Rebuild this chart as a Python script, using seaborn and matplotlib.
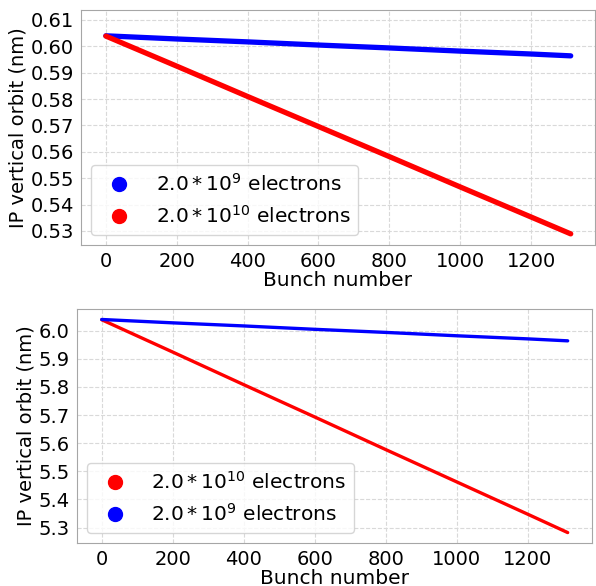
import numpy as np
import pandas as pd
import matplotlib
matplotlib.use("Agg")
import matplotlib.pyplot as plt
import seaborn as sns
from matplotlib.lines import Line2D

bunch = [0, 200, 400, 600, 800, 1000, 1200, 1312]

# top panel (nm)
top_low = [0.6040, 0.6028, 0.6017, 0.6005, 0.5994, 0.5982, 0.5971, 0.5964]   # 2e9
top_high = [0.6039, 0.5925, 0.5810, 0.5696, 0.5582, 0.5467, 0.5353, 0.5289]  # 2e10

# bottom panel (nm)
bot_low = [6.040, 6.028, 6.017, 6.005, 5.994, 5.982, 5.971, 5.964]   # 2e9
bot_high = [6.039, 5.924, 5.808, 5.693, 5.577, 5.462, 5.347, 5.282]  # 2e10

label_low = r'$2.0*10^{9}$ electrons'
label_high = r'$2.0*10^{10}$ electrons'

sns.set_style("whitegrid", {"grid.linestyle": "--", "grid.color": ".85",
                            "axes.edgecolor": ".65", "text.color": "black",
                            "axes.labelcolor": "black", "xtick.color": "black",
                            "ytick.color": "black"})
plt.rcParams['font.family'] = ['DejaVu Sans']

fig = plt.figure(figsize=(5.96, 5.86), dpi=100)
ax1 = fig.add_axes([0.136, 0.582, 0.862, 0.401])
ax2 = fig.add_axes([0.129, 0.073, 0.864, 0.400])

#top panel, thick lines
sns.lineplot(x=bunch, y=top_low, ax=ax1, color='blue', linewidth=3.8, solid_capstyle='round')
sns.lineplot(x=bunch, y=top_high, ax=ax1, color='red', linewidth=3.8, solid_capstyle='round')
ax1.set_ylim(0.5247, 0.6138)
ax1.set_yticks([0.53, 0.54, 0.55, 0.56, 0.57, 0.58, 0.59, 0.60, 0.61])
handles1 = [Line2D([], [], ls='', marker='o', ms=10, color='blue', label=label_low),
            Line2D([], [], ls='', marker='o', ms=10, color='red', label=label_high)]
ax1.legend(handles=handles1, loc='lower left', fontsize=14.5, handletextpad=0.8)

#bottom panel, thinner lines
sns.lineplot(x=bunch, y=bot_high, ax=ax2, color='red', linewidth=2.4, solid_capstyle='round')
sns.lineplot(x=bunch, y=bot_low, ax=ax2, color='blue', linewidth=2.4, solid_capstyle='round')
ax2.set_yticks([5.3, 5.4, 5.5, 5.6, 5.7, 5.8, 5.9, 6.0])
handles2 = [Line2D([], [], ls='', marker='o', ms=10, color='red', label=label_high),
            Line2D([], [], ls='', marker='o', ms=10, color='blue', label=label_low)]
ax2.legend(handles=handles2, loc='lower left', fontsize=14.5, handletextpad=0.8)

for ax in (ax1, ax2):
    ax.set_xticks([0, 200, 400, 600, 800, 1000, 1200])
    ax.set_xlim(-70, 1380)
    ax.tick_params(labelsize=14, pad=1.5, length=3.5, width=0.8, color='.45',
                   labelcolor='black')
    ax.set_xlabel("Bunch number", fontsize=14.5, labelpad=0)
    ax.set_ylabel("IP vertical orbit (nm)", fontsize=14, labelpad=2)
    ax.grid(True, linestyle='--', color='.85')

fig.savefig("out.png", dpi=100)
